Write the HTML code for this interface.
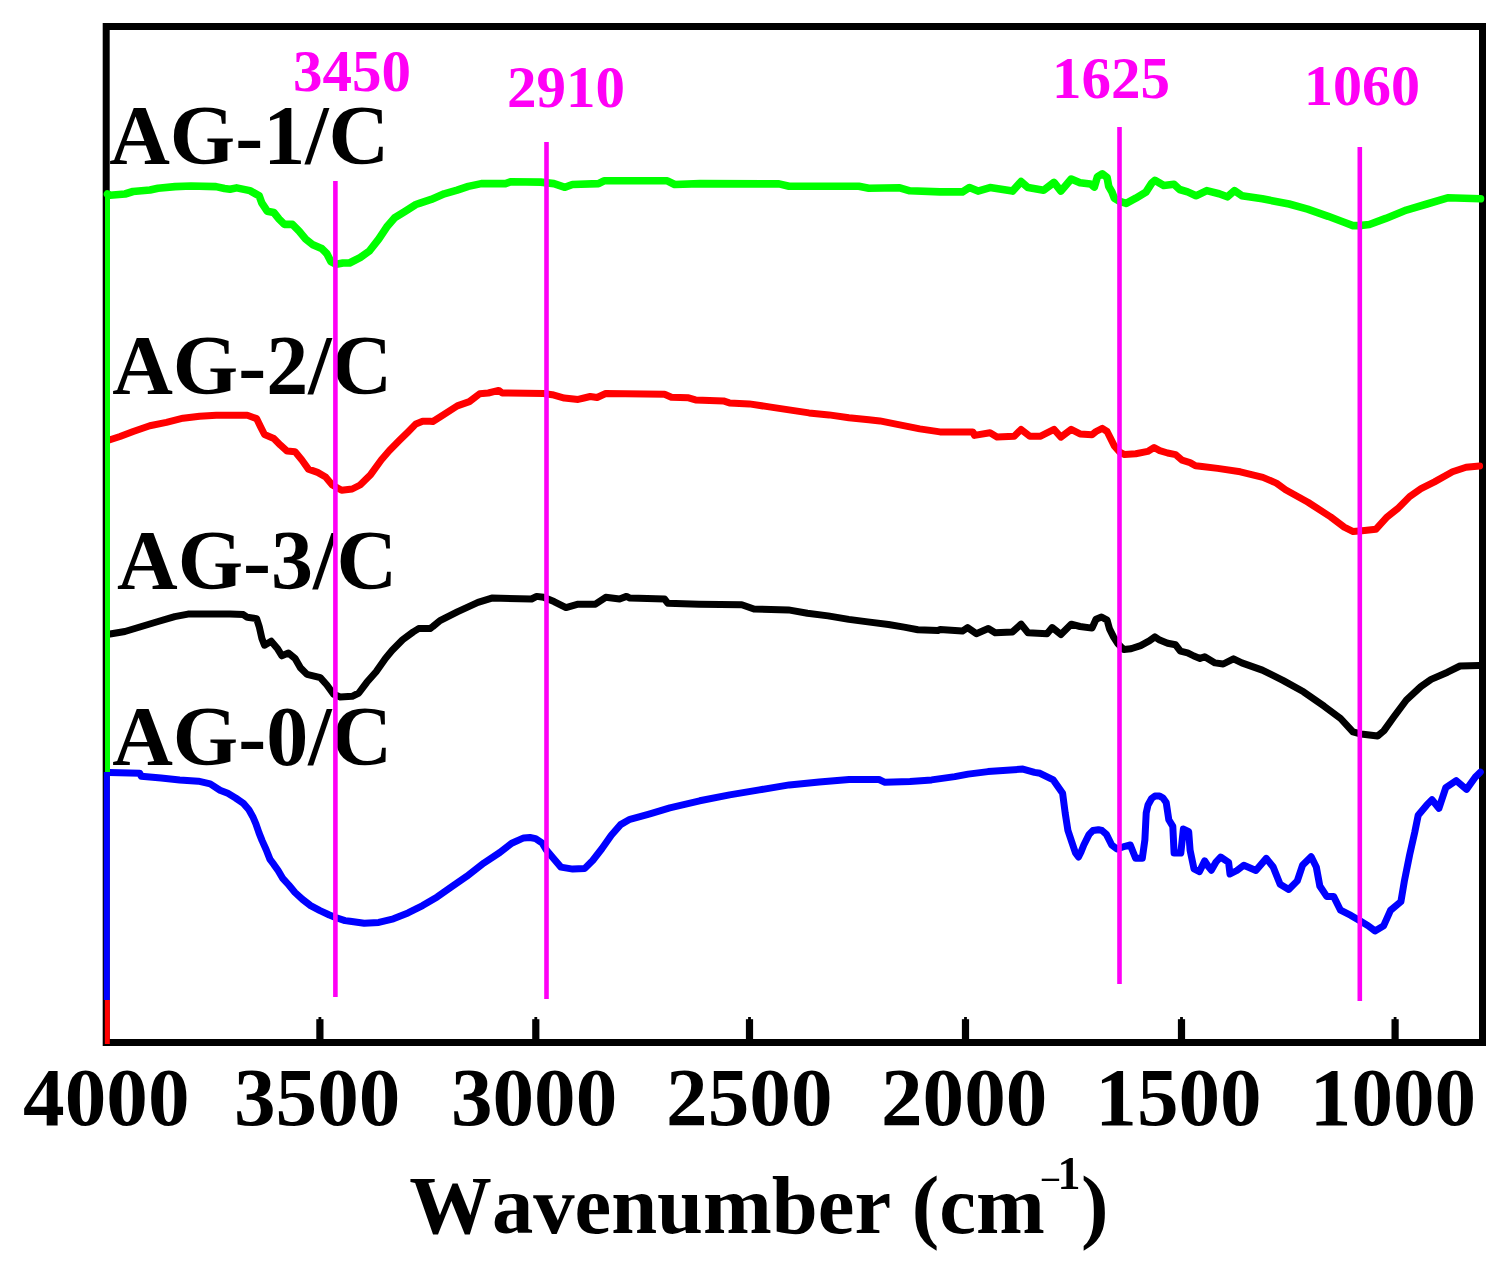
<!DOCTYPE html><html><head><meta charset="utf-8"><style>html,body{margin:0;padding:0;background:#fff;overflow:hidden}svg{display:block}text{font-kerning:none}</style></head><body><svg width="1506" height="1280" viewBox="0 0 1506 1280">
<rect width="1506" height="1280" fill="#fff"/>
<rect x="106.2" y="26.5" width="1376.3" height="1016" fill="none" stroke="#000" stroke-width="7"/>
<rect x="316.3" y="1019.2" width="7.2" height="22" fill="#000"/>
<rect x="318.5" y="1017" width="2.8" height="3" fill="#000"/>
<rect x="532.2" y="1019.2" width="7.2" height="22" fill="#000"/>
<rect x="534.4" y="1017" width="2.8" height="3" fill="#000"/>
<rect x="745.9" y="1019.2" width="7.2" height="22" fill="#000"/>
<rect x="748.1" y="1017" width="2.8" height="3" fill="#000"/>
<rect x="961.9" y="1019.2" width="7.2" height="22" fill="#000"/>
<rect x="964.1" y="1017" width="2.8" height="3" fill="#000"/>
<rect x="1177.9" y="1019.2" width="7.2" height="22" fill="#000"/>
<rect x="1180.1" y="1017" width="2.8" height="3" fill="#000"/>
<rect x="1391.5" y="1019.2" width="7.2" height="22" fill="#000"/>
<rect x="1393.7" y="1017" width="2.8" height="3" fill="#000"/>
<polyline points="107.5,194.0 110.0,195.2 125.0,194.0 133.0,191.5 150.0,190.0 158.0,188.2 175.0,186.6 191.0,186.0 216.0,186.6 224.5,188.5 230.0,189.3 236.6,187.9 249.9,190.6 259.2,195.9 261.9,203.2 267.2,211.2 273.8,212.5 279.1,219.1 284.4,224.4 292.4,224.4 299.1,231.1 305.7,239.1 312.3,244.4 321.6,248.4 326.9,253.7 330.9,261.6 336.2,264.3 342.9,263.0 349.5,263.0 360.1,257.6 369.4,251.0 378.7,239.1 386.7,227.1 394.7,217.8 405.3,211.2 415.9,204.5 420.0,203.1 431.2,199.4 444.2,193.8 457.2,190.1 468.3,186.4 481.3,183.6 505.5,183.6 511.1,181.7 540.8,182.1 553.9,183.6 565.0,187.3 572.4,184.5 598.5,183.6 604.0,180.8 667.3,180.8 674.7,184.5 700.0,183.6 779.0,183.9 789.0,186.3 858.8,186.3 868.8,188.2 899.8,187.8 909.8,190.8 940.0,191.9 962.4,191.9 969.4,187.6 978.0,191.1 990.0,187.6 1012.5,191.1 1021.1,181.6 1028.0,187.6 1043.6,190.2 1054.0,182.4 1060.9,191.1 1071.2,179.0 1080.0,182.7 1090.4,183.9 1094.3,187.1 1097.5,176.7 1102.3,173.9 1107.1,177.5 1108.7,186.3 1111.9,191.9 1114.3,198.2 1119.8,201.4 1126.2,203.4 1135.8,198.2 1146.1,191.9 1151.7,183.1 1154.9,180.3 1159.7,183.1 1163.7,185.5 1174.0,184.3 1179.6,189.5 1187.6,191.9 1195.5,195.5 1196.5,195.7 1206.8,190.6 1219.1,193.7 1227.3,196.8 1234.5,190.6 1241.8,195.7 1262.3,198.8 1289.1,204.0 1307.6,209.1 1328.2,216.3 1344.7,222.5 1352.9,225.6 1359.1,225.6 1369.4,224.5 1385.8,218.4 1406.4,210.1 1427.0,204.0 1447.6,197.8 1480.5,198.8" fill="none" stroke="#00ff00" stroke-width="7.6" stroke-linejoin="round" stroke-linecap="round"/>
<polyline points="110.0,439.8 120.0,436.5 133.2,431.5 149.8,425.7 166.4,422.4 183.0,418.2 199.6,416.2 216.2,415.2 230.0,415.3 247.3,415.3 256.6,418.6 260.5,426.6 264.5,434.5 273.8,438.5 280.5,445.2 287.1,451.1 295.1,451.8 301.7,459.8 308.4,469.1 317.6,472.4 325.6,477.0 332.3,485.0 341.6,490.3 352.2,489.0 360.1,485.0 370.8,474.4 381.4,459.8 389.4,450.5 400.0,439.8 408.0,431.9 415.9,423.9 422.6,421.2 430.0,421.2 432.9,421.5 440.0,417.1 457.3,405.9 469.4,401.6 479.7,393.8 488.3,393.0 498.7,390.4 502.2,393.0 543.6,393.5 552.2,394.7 564.3,398.1 578.1,399.4 584.0,398.0 590.2,396.5 597.1,397.5 605.7,393.5 664.5,394.3 671.4,397.3 688.6,397.8 695.5,399.9 723.4,400.9 729.4,402.9 749.3,403.9 769.2,406.9 789.0,409.9 809.0,412.9 829.0,414.9 848.9,417.8 868.8,419.8 879.9,420.9 899.8,424.9 919.8,428.9 940.0,431.9 972.8,431.9 974.5,435.4 990.0,432.8 997.0,437.1 1014.2,436.3 1021.1,429.4 1029.8,436.3 1040.1,436.3 1054.0,429.4 1060.9,437.1 1071.2,429.4 1080.0,433.9 1092.0,434.7 1096.0,431.5 1102.3,428.3 1107.1,431.5 1110.3,437.9 1114.3,445.9 1119.8,452.2 1124.6,454.6 1135.8,453.8 1147.7,451.4 1154.1,447.5 1159.7,450.6 1167.6,453.0 1175.6,454.6 1182.0,460.2 1190.0,462.6 1195.5,465.8 1200.0,466.2 1217.7,468.4 1240.3,471.8 1262.9,477.4 1276.4,483.1 1285.5,489.8 1308.0,502.3 1330.6,516.9 1344.2,527.1 1353.2,531.6 1364.5,530.5 1375.8,529.3 1387.1,516.9 1398.4,507.9 1409.6,496.6 1421.0,488.7 1434.5,481.9 1452.5,471.8 1466.1,467.3 1479.6,466.1" fill="none" stroke="#ff0000" stroke-width="7.0" stroke-linejoin="round" stroke-linecap="round"/>
<polyline points="110.0,634.0 124.9,631.5 141.5,626.5 158.1,621.5 174.7,616.6 188.0,614.1 230.0,613.9 243.3,614.6 247.3,617.3 256.6,618.6 259.2,626.6 261.9,638.5 264.5,645.2 271.2,641.2 277.8,649.1 281.8,655.8 288.4,653.1 295.1,658.4 300.4,667.7 307.0,674.4 320.3,677.7 326.9,685.0 333.6,694.3 340.2,696.9 352.2,696.3 358.8,693.0 366.8,682.3 376.1,671.7 385.4,658.4 392.0,650.5 402.6,639.8 413.3,631.9 418.6,628.6 430.0,628.6 432.9,626.5 440.0,620.6 457.3,611.9 478.0,602.4 491.8,598.1 531.5,599.0 536.7,596.4 543.6,597.3 554.0,601.6 566.0,607.6 578.1,604.2 595.4,604.2 605.7,597.3 619.6,599.0 626.5,596.4 629.9,598.1 664.5,599.0 667.9,603.3 699.0,604.2 741.8,604.7 753.9,609.0 788.4,609.9 807.4,613.3 828.1,615.9 848.8,619.4 867.8,621.9 888.5,624.5 904.1,627.1 917.9,629.7 938.0,630.6 940.0,629.4 962.4,631.1 967.6,627.6 976.3,633.7 988.3,628.5 995.2,632.8 1012.5,631.9 1021.1,624.2 1028.0,632.8 1047.0,633.7 1052.2,627.6 1060.9,634.5 1071.2,624.2 1080.0,626.5 1092.0,628.1 1096.0,619.3 1101.5,617.0 1107.1,620.1 1109.5,628.9 1113.5,636.9 1117.5,643.2 1123.8,649.6 1131.0,648.8 1140.6,645.6 1149.3,640.9 1154.9,636.9 1159.7,640.1 1167.6,643.2 1175.6,644.8 1180.4,651.2 1187.6,652.8 1193.9,656.0 1200.0,658.4 1204.7,656.8 1215.0,662.9 1223.2,664.0 1233.5,658.8 1241.8,662.9 1262.3,670.1 1282.9,680.4 1303.5,691.8 1324.1,706.2 1340.6,718.5 1352.9,731.9 1361.1,734.0 1377.6,736.0 1383.8,730.9 1394.1,716.5 1406.4,700.0 1420.8,686.6 1431.1,679.4 1447.6,672.2 1460.0,666.0 1479.5,665.4" fill="none" stroke="#000000" stroke-width="7.0" stroke-linejoin="round" stroke-linecap="round"/>
<polyline points="109.3,772.6 139.8,773.3 141.2,776.2 161.1,777.9 179.7,779.9 198.3,781.2 210.2,783.9 220.0,790.2 227.8,793.3 235.6,798.0 243.4,803.4 248.9,809.7 252.8,816.7 255.9,823.8 259.1,833.1 262.2,840.9 266.1,849.5 270.0,859.4 273.8,864.4 278.1,870.6 282.5,878.1 288.8,885.0 295.0,892.5 302.5,899.4 310.6,905.6 320.0,910.6 329.4,915.0 335.6,917.5 345.0,920.6 350.0,921.3 364.2,923.2 378.8,922.4 393.4,918.8 408.0,912.9 422.6,905.6 437.2,896.9 451.8,886.6 466.6,876.4 483.8,863.1 499.8,852.5 511.7,843.2 523.7,837.9 530.0,837.5 535.6,838.6 542.3,843.2 546.2,849.8 552.9,857.8 560.9,867.1 572.8,869.1 584.8,868.4 592.7,860.5 602.0,848.5 611.3,835.2 620.6,824.6 629.9,819.3 640.0,816.6 649.9,813.8 669.8,807.8 699.7,800.8 729.6,794.9 759.4,789.9 789.3,784.9 819.2,781.9 849.1,779.5 879.0,779.5 885.0,782.3 910.0,781.6 931.6,779.9 954.8,776.6 968.1,774.1 988.0,771.6 1022.9,769.1 1034.5,772.4 1040.0,773.3 1053.3,779.9 1062.6,793.2 1065.2,813.1 1067.9,830.4 1071.9,842.3 1075.5,853.0 1078.5,857.0 1081.0,852.0 1083.8,845.0 1089.1,834.4 1093.0,830.5 1098.4,829.7 1102.0,830.5 1106.4,834.4 1111.7,845.0 1117.0,849.0 1125.0,846.3 1130.3,845.0 1133.5,853.0 1135.6,858.3 1142.3,858.3 1144.9,839.7 1146.2,813.1 1148.0,805.0 1151.6,798.5 1155.0,796.0 1159.5,795.9 1163.0,798.0 1166.2,802.5 1168.8,819.8 1172.8,826.4 1174.1,853.0 1180.8,853.0 1183.4,829.0 1188.7,831.7 1190.1,850.3 1194.0,868.9 1199.4,871.6 1204.7,860.9 1208.0,866.0 1211.3,870.2 1216.0,862.0 1220.6,857.0 1228.6,862.3 1230.0,874.0 1236.9,870.5 1243.8,865.3 1255.9,870.5 1266.3,858.4 1273.2,867.0 1280.1,884.3 1288.7,889.5 1297.3,880.9 1302.5,865.3 1311.1,856.7 1316.3,867.0 1319.8,886.0 1326.7,896.4 1333.6,896.4 1340.5,910.2 1350.9,915.4 1359.5,920.6 1368.1,925.7 1375.0,930.9 1383.7,925.7 1390.6,910.2 1400.9,901.6 1404.4,880.9 1409.6,855.0 1414.7,832.5 1418.2,815.2 1426.8,804.9 1432.0,799.7 1438.9,808.3 1445.8,787.6 1456.2,780.7 1466.5,789.4 1475.2,777.3 1480.3,772.1" fill="none" stroke="#0000ff" stroke-width="7.0" stroke-linejoin="round" stroke-linecap="round"/>
<line x1="107.5" y1="194" x2="107.5" y2="772" stroke="#00ff00" stroke-width="5"/>
<line x1="106.8" y1="772" x2="106.8" y2="1000" stroke="#0000ff" stroke-width="6"/>
<line x1="107.3" y1="1000" x2="107.3" y2="1044" stroke="#ff0000" stroke-width="5"/>
<text x="109.2" y="163.7" font-family="Liberation Serif, Times New Roman, serif" font-weight="bold" font-size="84" fill="#000">AG-1/C</text>
<text x="112.2" y="394.1" font-family="Liberation Serif, Times New Roman, serif" font-weight="bold" font-size="84" fill="#000">AG-2/C</text>
<text x="117.1" y="588.7" font-family="Liberation Serif, Times New Roman, serif" font-weight="bold" font-size="84" fill="#000">AG-3/C</text>
<text x="112.2" y="765.3" font-family="Liberation Serif, Times New Roman, serif" font-weight="bold" font-size="84" fill="#000">AG-0/C</text>
<line x1="335.4" y1="181" x2="335.4" y2="997" stroke="#ff00f6" stroke-width="4.6"/>
<line x1="546.5" y1="142" x2="546.5" y2="999" stroke="#ff00f6" stroke-width="4.6"/>
<line x1="1119.5" y1="127" x2="1119.5" y2="984" stroke="#ff00f6" stroke-width="4.6"/>
<line x1="1359.8" y1="147" x2="1359.8" y2="1001" stroke="#ff00f6" stroke-width="4.6"/>
<text x="293" y="90.6" font-family="Liberation Serif, Times New Roman, serif" font-weight="bold" font-size="59" fill="#ff00f6">3450</text>
<text x="507" y="107.4" font-family="Liberation Serif, Times New Roman, serif" font-weight="bold" font-size="59" fill="#ff00f6">2910</text>
<text x="1052" y="98.4" font-family="Liberation Serif, Times New Roman, serif" font-weight="bold" font-size="59" fill="#ff00f6">1625</text>
<text x="1304" y="105" font-family="Liberation Serif, Times New Roman, serif" font-weight="bold" font-size="58" fill="#ff00f6">1060</text>
<text x="106.3" y="1124.8" font-family="Liberation Serif, Times New Roman, serif" font-weight="bold" font-size="83.2" text-anchor="middle" fill="#000">4000</text>
<text x="317.2" y="1124.8" font-family="Liberation Serif, Times New Roman, serif" font-weight="bold" font-size="83.2" text-anchor="middle" fill="#000">3500</text>
<text x="534.1" y="1124.8" font-family="Liberation Serif, Times New Roman, serif" font-weight="bold" font-size="83.2" text-anchor="middle" fill="#000">3000</text>
<text x="749.3" y="1124.8" font-family="Liberation Serif, Times New Roman, serif" font-weight="bold" font-size="83.2" text-anchor="middle" fill="#000">2500</text>
<text x="964.2" y="1124.8" font-family="Liberation Serif, Times New Roman, serif" font-weight="bold" font-size="83.2" text-anchor="middle" fill="#000">2000</text>
<text x="1178.5" y="1124.8" font-family="Liberation Serif, Times New Roman, serif" font-weight="bold" font-size="83.2" text-anchor="middle" fill="#000">1500</text>
<text x="1393.0" y="1124.8" font-family="Liberation Serif, Times New Roman, serif" font-weight="bold" font-size="83.2" text-anchor="middle" fill="#000">1000</text>
<text x="409.3" y="1233.2" font-family="Liberation Serif, Times New Roman, serif" font-weight="bold" font-size="82.6" fill="#000">Wavenumber (cm</text>
<text x="1039.2" y="1186" font-family="Liberation Serif, Times New Roman, serif" font-weight="bold" font-size="28" textLength="22.4" lengthAdjust="spacingAndGlyphs" fill="#000">-</text>
<text x="1057.5" y="1188.7" font-family="Liberation Serif, Times New Roman, serif" font-weight="bold" font-size="46" fill="#000">1</text>
<text x="1081" y="1233.2" font-family="Liberation Serif, Times New Roman, serif" font-weight="bold" font-size="82.6" fill="#000">)</text>
</svg></body></html>
